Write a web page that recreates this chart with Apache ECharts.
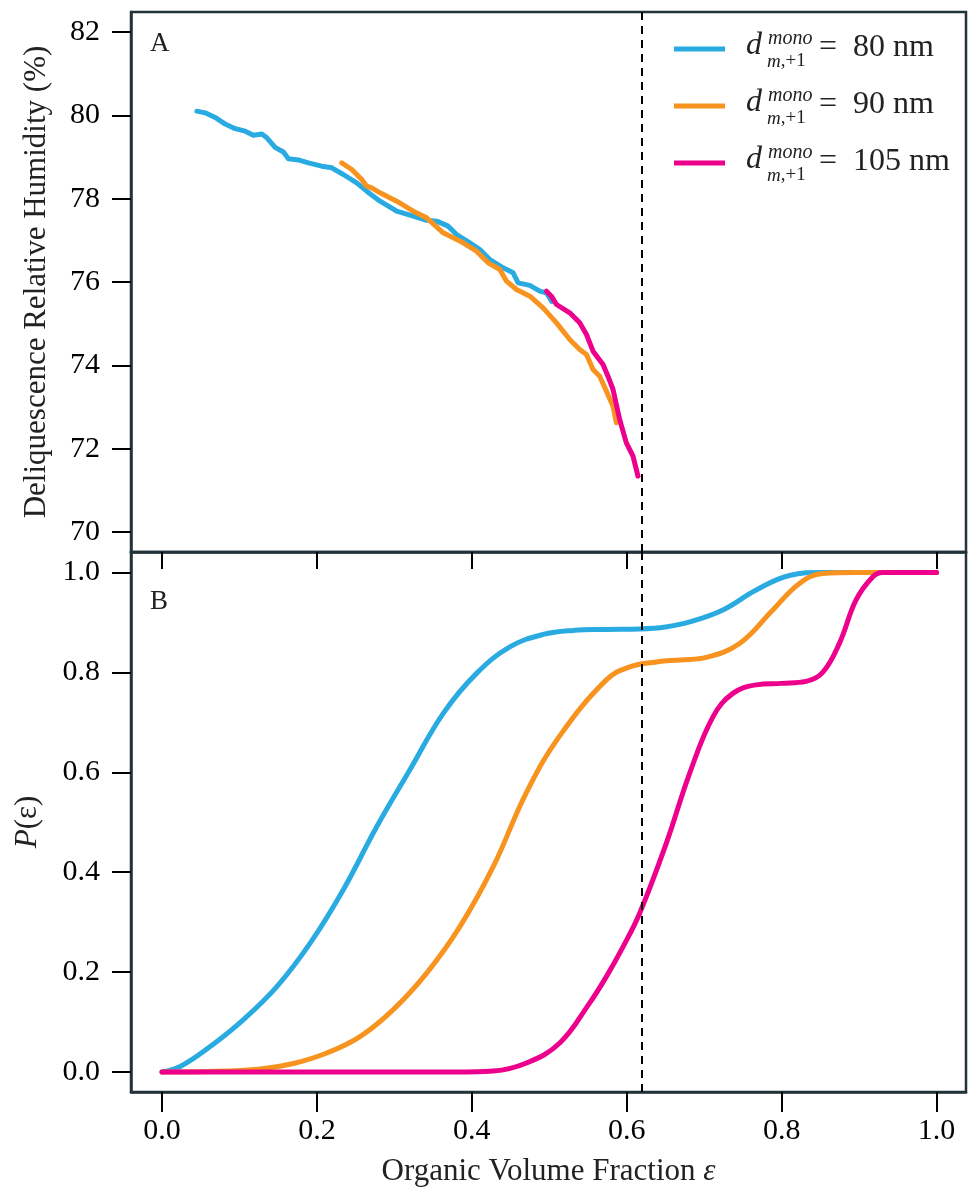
<!DOCTYPE html>
<html>
<head>
<meta charset="utf-8">
<script src="https://cdn.jsdelivr.net/npm/echarts@6/dist/echarts.min.js"></script>
<style>
html,body{margin:0;padding:0;background:#fff;}
#chart{width:968px;height:1188px;}
</style>
</head>
<body>
<div id="chart"></div>
<script>
// ---------- DATA ----------
var seriesNames = ['80 nm', '90 nm', '105 nm'];
var seriesColors = ['#29abe2', '#f7931e', '#ec008c'];
var dashedEps = 0.617;

// Panel A: deliquescence RH (%) vs organic volume fraction
var rh80 = [[0.0451,80.10],[0.0558,80.06],[0.0687,79.95],[0.0816,79.79],[0.0945,79.68],[0.1074,79.62],[0.1181,79.52],[0.1289,79.55],[0.1354,79.46],[0.1461,79.23],[0.1568,79.12],[0.1632,78.96],[0.1761,78.93],[0.1890,78.86],[0.2063,78.78],[0.2192,78.74],[0.2341,78.58],[0.2514,78.38],[0.2643,78.18],[0.2815,77.94],[0.3030,77.70],[0.3244,77.58],[0.3417,77.48],[0.3546,77.46],[0.3695,77.34],[0.3804,77.14],[0.3975,76.94],[0.4104,76.78],[0.4233,76.54],[0.4404,76.34],[0.4533,76.22],[0.4598,75.98],[0.4749,75.92],[0.4878,75.78],[0.4964,75.74],[0.5032,75.53]];
var rh90 = [[0.2321,78.86],[0.2450,78.70],[0.2514,78.58],[0.2579,78.46],[0.2643,78.30],[0.2708,78.26],[0.2815,78.14],[0.3030,77.94],[0.3244,77.70],[0.3417,77.54],[0.3631,77.18],[0.3889,76.94],[0.4061,76.74],[0.4211,76.46],[0.4362,76.30],[0.4448,76.02],[0.4577,75.82],[0.4749,75.66],[0.4920,75.38],[0.5093,75.02],[0.5264,74.62],[0.5393,74.38],[0.5480,74.26],[0.5565,73.90],[0.5651,73.74],[0.5738,73.38],[0.5823,73.02],[0.5866,72.62]];
var rh105 = [[0.4964,75.78],[0.5028,75.66],[0.5093,75.46],[0.5264,75.26],[0.5393,75.02],[0.5480,74.74],[0.5565,74.34],[0.5694,74.02],[0.5758,73.74],[0.5823,73.42],[0.5909,72.70],[0.5995,72.14],[0.6081,71.82],[0.6145,71.34]];

// Panel B: P(eps)
var p80 = [[0,0],[0.0236,0.011],[0.0623,0.051],[0.1052,0.105],[0.1483,0.171],[0.1913,0.258],[0.2341,0.365],[0.2772,0.491],[0.3201,0.605],[0.3631,0.718],[0.4061,0.798],[0.4491,0.851],[0.4920,0.876],[0.5307,0.884],[0.5737,0.886],[0.6167,0.887],[0.6500,0.891],[0.6812,0.901],[0.7241,0.925],[0.7671,0.965],[0.8101,0.994],[0.8530,1.0],[0.9000,1.0],[0.9500,1.0],[1.0,1.0]];
var p90 = [[0,0],[0.0600,0.001],[0.1267,0.006],[0.1697,0.017],[0.2127,0.038],[0.2557,0.071],[0.2986,0.125],[0.3417,0.198],[0.3846,0.291],[0.4276,0.411],[0.4706,0.560],[0.5135,0.673],[0.5737,0.785],[0.6038,0.811],[0.6382,0.821],[0.6700,0.825],[0.7027,0.830],[0.7456,0.858],[0.7886,0.925],[0.8230,0.978],[0.8530,0.998],[0.8961,1.0],[0.9500,1.0],[1.0,1.0]];
var p105 = [[0,0],[0.1000,0],[0.2000,0],[0.3000,0],[0.3800,0],[0.4276,0.002],[0.4706,0.018],[0.5135,0.058],[0.5520,0.138],[0.5737,0.191],[0.5950,0.250],[0.6167,0.318],[0.6511,0.458],[0.6812,0.598],[0.7113,0.711],[0.7370,0.758],[0.7671,0.775],[0.8000,0.778],[0.8315,0.782],[0.8530,0.800],[0.8745,0.858],[0.8961,0.945],[0.9175,0.991],[0.9303,1.0],[0.9650,1.0],[1.0,1.0]];

var xTicks = [0, 0.2, 0.4, 0.6, 0.8, 1.0];
var rhTicks = [70, 72, 74, 76, 78, 80, 82];
var pTicks = [0, 0.2, 0.4, 0.6, 0.8, 1.0];

// ---------- CHART ----------
var FONT = 'Liberation Serif';
var chart = echarts.init(document.getElementById('chart'), null, {renderer: 'canvas'});

var frameColor = '#22333a';
var axisLineDef = {show: true, onZero: false, lineStyle: {color: frameColor, width: 2.5}};

function xAxisDef(gridIndex, showLabels, tickLen) {
  return {
    type: 'value', gridIndex: gridIndex, min: -0.04, max: 1.038, position: 'bottom',
    axisLine: axisLineDef,
    splitLine: {show: false},
    axisTick: {show: true, inside: false, length: tickLen, customValues: xTicks, lineStyle: {color: '#000', width: 2}},
    axisLabel: {show: showLabels, customValues: xTicks, margin: 24, color: '#000', fontFamily: FONT, fontSize: 30,
      formatter: function (v) { return v.toFixed(1); }},
    name: showLabels ? 'Organic Volume Fraction {e|ε}' : '',
    nameLocation: 'middle', nameGap: 64,
    nameTextStyle: {color: '#222', fontFamily: FONT, fontSize: 31,
      rich: {e: {fontFamily: FONT, fontSize: 31, fontStyle: 'italic', color: '#222'}}}
  };
}

function lineSeries(name, data, color, xi, yi, width, smooth) {
  return {
    type: 'line', name: name, data: data, xAxisIndex: xi, yAxisIndex: yi,
    showSymbol: false, symbol: 'none', smooth: smooth ? 0.4 : false,
    lineStyle: {color: color, width: width, cap: 'round', join: 'round'},
    itemStyle: {color: color}, animation: false, silent: true
  };
}

function dashedMark(xi, yi) {
  return {
    type: 'line', data: [], xAxisIndex: xi, yAxisIndex: yi, animation: false, silent: true,
    markLine: {
      silent: true, symbol: ['none', 'none'], label: {show: false}, animation: false,
      lineStyle: {type: [8, 6], color: '#000', width: 2},
      data: [{xAxis: dashedEps}]
    }
  };
}

var legendGraphics = [];
var legendRowsY = [49, 106, 163];
for (var i = 0; i < 3; i++) {
  var y = legendRowsY[i];
  legendGraphics.push({type: 'line', shape: {x1: 674, y1: y, x2: 725, y2: y}, style: {stroke: seriesColors[i], lineWidth: 5}, silent: true});
  legendGraphics.push({type: 'text', x: 746, y: y + 13, style: {text: 'd', font: 'italic 32px "' + FONT + '"', fill: '#222', verticalAlign: 'bottom'}, silent: true});
  legendGraphics.push({type: 'text', x: 768, y: y + 0, style: {text: 'mono', font: 'italic 20px "' + FONT + '"', fill: '#222', verticalAlign: 'bottom'}, silent: true});
  legendGraphics.push({type: 'text', x: 767, y: y + 22, style: {text: '{m|m},+1', font: '19px "' + FONT + '"', fill: '#222', verticalAlign: 'bottom',
    rich: {m: {font: 'italic 19px "' + FONT + '"', fill: '#222'}}}, silent: true});
  legendGraphics.push({type: 'text', x: 819, y: y + 15, style: {text: '=  ' + seriesNames[i], font: '32px "' + FONT + '"', fill: '#222', verticalAlign: 'bottom'}, silent: true});
}

var option = {
  backgroundColor: '#fff',
  animation: false,
  grid: [
    {left: 131, right: 2, top: 12, height: 540, show: true, borderColor: frameColor, borderWidth: 2.5, backgroundColor: 'transparent'},
    {left: 131, right: 2, top: 552, height: 540, show: true, borderColor: frameColor, borderWidth: 2.5, backgroundColor: 'transparent'}
  ],
  xAxis: [xAxisDef(0, false, 17), xAxisDef(1, true, 20)],
  yAxis: [
    {type: 'value', gridIndex: 0, min: 69.52, max: 82.48, position: 'left',
      axisLine: axisLineDef, splitLine: {show: false},
      axisTick: {show: true, inside: false, length: 19, customValues: rhTicks, lineStyle: {color: '#000', width: 2}},
      axisLabel: {customValues: rhTicks, margin: 31, color: '#000', fontFamily: FONT, fontSize: 30},
      name: 'Deliquescence Relative Humidity (%)', nameLocation: 'middle', nameGap: 79,
      nameTextStyle: {color: '#222', fontFamily: FONT, fontSize: 31}},
    {type: 'value', gridIndex: 1, min: -0.04, max: 1.041, position: 'left',
      axisLine: axisLineDef, splitLine: {show: false},
      axisTick: {show: true, inside: false, length: 19, customValues: pTicks, lineStyle: {color: '#000', width: 2}},
      axisLabel: {customValues: pTicks, margin: 31, color: '#000', fontFamily: FONT, fontSize: 30,
        formatter: function (v) { return v.toFixed(1); }},
      name: '{i|P}(ε)', nameLocation: 'middle', nameGap: 88,
      nameTextStyle: {color: '#222', fontFamily: FONT, fontSize: 31,
        rich: {i: {fontFamily: FONT, fontSize: 31, fontStyle: 'italic', color: '#222'}}}}
  ],
  graphic: [
    {type: 'text', x: 150, y: 30, style: {text: 'A', font: '27px "' + FONT + '"', fill: '#222'}, silent: true},
    {type: 'text', x: 150, y: 588, style: {text: 'B', font: '27px "' + FONT + '"', fill: '#222'}, silent: true}
  ].concat(legendGraphics),
  series: [
    lineSeries(seriesNames[0], rh80, seriesColors[0], 0, 0, 5, false),
    lineSeries(seriesNames[1], rh90, seriesColors[1], 0, 0, 5, false),
    lineSeries(seriesNames[2], rh105, seriesColors[2], 0, 0, 5, false),
    dashedMark(0, 0),
    lineSeries(seriesNames[0], p80, seriesColors[0], 1, 1, 5, true),
    lineSeries(seriesNames[1], p90, seriesColors[1], 1, 1, 5, true),
    lineSeries(seriesNames[2], p105, seriesColors[2], 1, 1, 5, true),
    dashedMark(1, 1)
  ]
};
chart.setOption(option);
</script>
</body>
</html>
